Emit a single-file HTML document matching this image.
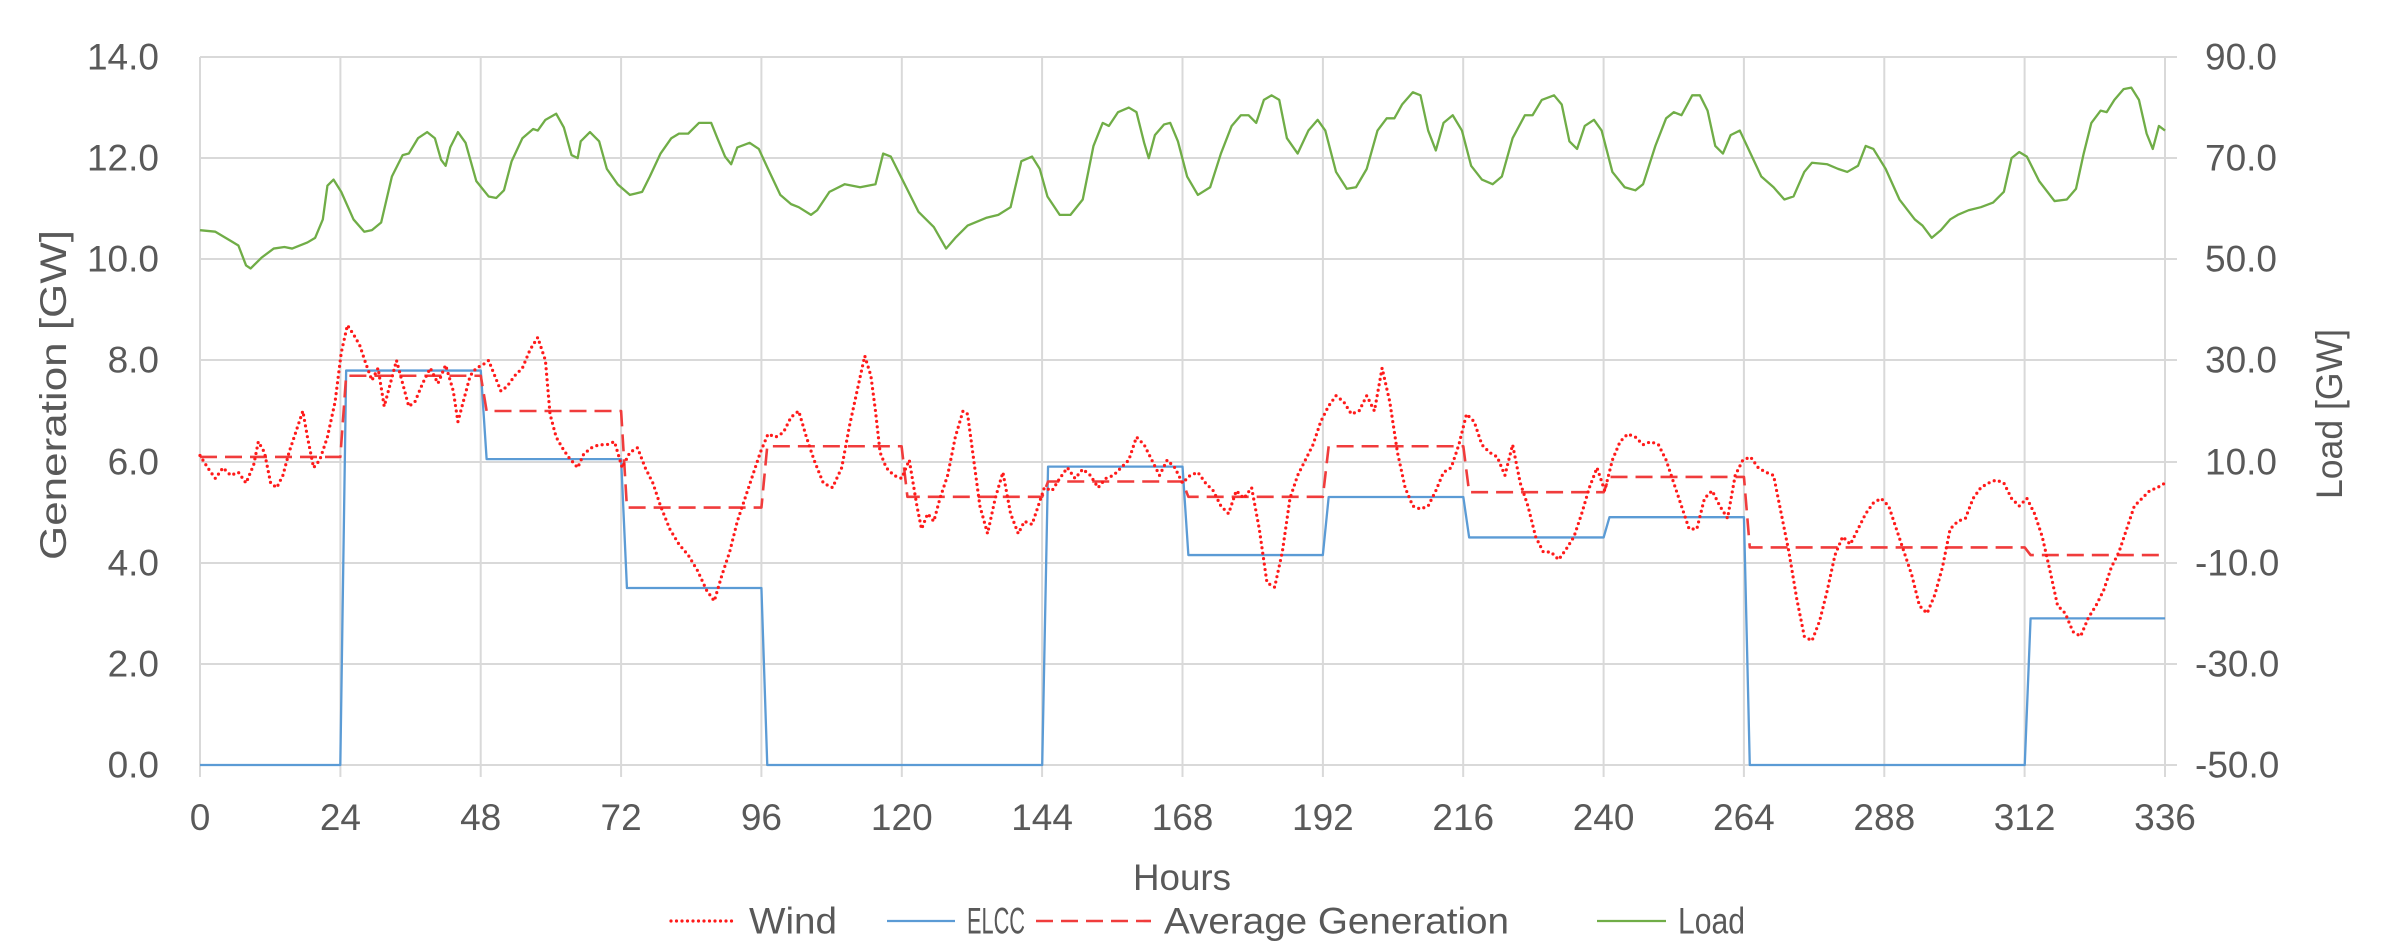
<!DOCTYPE html>
<html><head><meta charset="utf-8"><style>
html,body{margin:0;padding:0;background:#fff;}
svg{display:block;font-family:"Liberation Sans",sans-serif;}
text{fill:#595959;font-size:37px;}
</style></head><body>
<svg width="2407" height="950" viewBox="0 0 2407 950" xmlns="http://www.w3.org/2000/svg">
<g stroke="#D9D9D9" stroke-width="2">
<line x1="200" y1="57" x2="2177" y2="57"/><line x1="200" y1="158" x2="2177" y2="158"/><line x1="200" y1="259" x2="2177" y2="259"/><line x1="200" y1="360" x2="2177" y2="360"/><line x1="200" y1="462" x2="2177" y2="462"/><line x1="200" y1="563" x2="2177" y2="563"/><line x1="200" y1="664" x2="2177" y2="664"/><line x1="200" y1="765" x2="2177" y2="765"/>
<line x1="200" y1="57" x2="200" y2="777"/><line x1="340.4" y1="57" x2="340.4" y2="777"/><line x1="480.7" y1="57" x2="480.7" y2="777"/><line x1="621.1" y1="57" x2="621.1" y2="777"/><line x1="761.4" y1="57" x2="761.4" y2="777"/><line x1="901.8" y1="57" x2="901.8" y2="777"/><line x1="1042.1" y1="57" x2="1042.1" y2="777"/><line x1="1182.5" y1="57" x2="1182.5" y2="777"/><line x1="1322.9" y1="57" x2="1322.9" y2="777"/><line x1="1463.2" y1="57" x2="1463.2" y2="777"/><line x1="1603.6" y1="57" x2="1603.6" y2="777"/><line x1="1743.9" y1="57" x2="1743.9" y2="777"/><line x1="1884.3" y1="57" x2="1884.3" y2="777"/><line x1="2024.6" y1="57" x2="2024.6" y2="777"/><line x1="2165" y1="57" x2="2165" y2="777"/>
</g>
<g text-anchor="end" dominant-baseline="central">
<text x="159" y="57">14.0</text><text x="159" y="158">12.0</text><text x="159" y="259">10.0</text><text x="159" y="360">8.0</text><text x="159" y="462">6.0</text><text x="159" y="563">4.0</text><text x="159" y="664">2.0</text><text x="159" y="765">0.0</text>
</g>
<g text-anchor="start" dominant-baseline="central">
<text x="2205" y="57">90.0</text><text x="2205" y="158">70.0</text><text x="2205" y="259">50.0</text><text x="2205" y="360">30.0</text><text x="2205" y="462">10.0</text><text x="2195" y="563">-10.0</text><text x="2195" y="664">-30.0</text><text x="2195" y="765">-50.0</text>
</g>
<g text-anchor="middle">
<text x="200" y="830">0</text><text x="340.4" y="830">24</text><text x="480.7" y="830">48</text><text x="621.1" y="830">72</text><text x="761.4" y="830">96</text><text x="901.8" y="830">120</text><text x="1042.1" y="830">144</text><text x="1182.5" y="830">168</text><text x="1322.9" y="830">192</text><text x="1463.2" y="830">216</text><text x="1603.6" y="830">240</text><text x="1743.9" y="830">264</text><text x="1884.3" y="830">288</text><text x="2024.6" y="830">312</text><text x="2165" y="830">336</text>
</g>
<text x="1133" y="890" textLength="98" lengthAdjust="spacingAndGlyphs">Hours</text>
<text transform="translate(66,560) rotate(-90)" textLength="330" lengthAdjust="spacingAndGlyphs">Generation [GW]</text>
<text transform="translate(2342,499) rotate(-90)" textLength="170" lengthAdjust="spacingAndGlyphs">Load [GW]</text>

<g transform="translate(200,57) scale(1.5352,1.5325) translate(-130,-37)" fill="none" stroke-linejoin="round">
<polyline vector-effect="non-scaling-stroke" stroke="#70AD47" stroke-width="2.3" points="130,150 140,151 150,157 155,160 160,173 163,175 170,168 178,162 185,161 190,162 200,158 205,155 210,143 213,121 217,117 222,125 230,143 237,151 242,150 248,145 255,115 262,101 266,100 272,90 278,86 283,90 287,104 290,108 293,96 298,86 303,93 310,118 318,128 323,129 328,124 333,105 340,90 347,84 350,85 355,78 362,74 367,83 372,101 376,103 378,92 384,86 390,92 395,110 402,120 410,127 418,125 423,115 430,100 437,90 442,87 448,87 455,80 463,80 467,90 472,102 476,107 480,96 488,93 494,97 500,110 508,127 515,133 520,135 528,140 532,137 540,125 550,120 560,122 570,120 575,100 580,102 588,118 598,138 608,148 616,162 622,155 630,147 642,142 650,140 658,135 665,105 672,102 677,110 682,128 690,140 697,140 705,130 712,95 718,80 722,82 728,73 735,70 740,73 745,93 748,103 752,88 758,81 762,80 767,92 773,115 780,127 788,122 795,100 802,82 808,75 813,75 818,80 823,65 828,62 833,65 838,90 845,100 852,85 858,78 863,85 870,112 877,123 883,122 890,110 897,85 903,77 908,77 913,68 920,60 925,62 930,85 935,98 940,80 946,75 952,85 958,108 965,117 972,120 978,115 985,90 993,75 998,75 1004,65 1012,62 1017,68 1022,92 1027,97 1032,82 1038,78 1043,85 1050,112 1058,122 1065,124 1070,120 1078,95 1085,77 1090,73 1095,75 1102,62 1107,62 1112,72 1117,95 1122,100 1127,88 1133,85 1140,100 1147,115 1155,122 1162,130 1168,128 1175,112 1180,106 1190,107 1197,110 1203,112 1210,108 1215,95 1220,97 1228,110 1237,130 1247,143 1252,147 1258,155 1264,150 1270,143 1275,140 1282,137 1290,135 1298,132 1305,125 1310,103 1315,99 1320,102 1328,118 1338,131 1346,130 1352,123 1357,100 1362,80 1368,72 1372,73 1377,65 1383,58 1388,57 1393,65 1398,87 1402,97 1406,82 1410,85"/>
<polyline vector-effect="non-scaling-stroke" stroke="#5B9BD5" stroke-width="2.3" points="130,499 221.4,499 225.2,241.6 312.9,241.6 316.7,299.4 404.3,299.4 408.1,383.5 495.7,383.5 499.5,499 678.6,499 682.4,304.3 770,304.3 773.8,362 861.4,362 865.2,324.1 952.9,324.1 956.7,350.5 1044.3,350.5 1048.1,337.3 1135.7,337.3 1139.5,499 1318.6,499 1322.4,403.3 1410,403.3"/>
<polyline vector-effect="non-scaling-stroke" stroke="#F03C3C" stroke-width="2.6" stroke-dasharray="17 8" points="130,298 221.4,298 225.2,245 312.9,245 316.7,268 404.3,268 408.1,331 495.7,331 499.5,291 587,291 590.8,324 678.6,324 682.4,314 770,314 773.8,324 861.4,324 865.2,291 952.9,291 956.7,321 1044.3,321 1048.1,311 1135.7,311 1139.5,357 1318.6,357 1322.4,362 1410,362"/>
<polyline vector-effect="non-scaling-stroke" stroke="#FF1A1A" stroke-width="3.2" stroke-linecap="round" stroke-dasharray="0 5.5" points="130,297 135,305 140,312 145,305 150,310 155,308 160,315 165,303 168,288 172,295 176,315 180,318 184,310 188,295 193,280 197,268 200,285 204,305 208,300 213,285 218,262 222,230 226,212 230,218 234,225 238,237 242,248 246,240 250,265 254,250 258,235 262,250 266,265 270,262 275,250 280,240 285,250 290,238 295,255 298,275 302,260 306,245 310,240 314,238 318,235 322,245 326,255 330,252 335,245 340,240 345,228 350,220 355,235 358,270 362,285 366,292 370,298 376,305 380,296 385,292 390,290 395,290 400,288 405,305 410,295 415,292 420,305 425,315 430,330 436,345 442,355 448,362 454,372 460,385 465,392 470,375 475,360 480,340 485,325 490,310 495,295 500,283 505,285 510,282 515,272 520,268 525,285 530,300 536,315 542,318 548,305 553,278 558,255 563,232 567,245 570,268 573,295 577,305 582,310 587,312 592,300 597,330 600,345 604,335 608,340 612,325 617,310 622,285 627,268 630,270 634,300 638,330 643,348 648,325 653,308 658,335 663,348 667,340 672,342 676,330 680,318 685,320 690,312 695,305 700,312 705,306 710,310 715,318 720,312 725,310 730,305 735,300 740,285 745,290 750,300 755,310 760,300 765,305 770,315 775,310 780,308 785,315 790,320 795,330 800,335 805,320 810,325 815,318 820,345 825,380 830,383 835,360 840,325 845,310 850,300 855,290 860,275 865,265 870,258 875,262 880,270 885,268 890,258 895,268 900,240 905,262 910,295 915,318 920,330 925,332 930,330 935,320 940,308 945,305 950,290 955,270 960,275 965,290 970,295 975,298 980,310 985,290 990,315 995,330 1000,350 1005,360 1010,360 1015,365 1020,358 1025,350 1030,335 1035,318 1040,305 1045,320 1050,300 1055,288 1060,283 1065,285 1070,290 1075,288 1080,290 1085,300 1090,315 1095,330 1100,345 1105,345 1110,325 1115,320 1120,330 1125,338 1130,310 1135,300 1140,298 1145,305 1150,308 1155,310 1160,335 1165,360 1170,390 1175,415 1180,418 1185,405 1190,385 1195,362 1200,350 1205,355 1210,345 1215,335 1220,328 1225,325 1230,330 1235,345 1240,360 1245,375 1250,395 1255,400 1260,388 1265,370 1270,345 1275,340 1280,338 1285,325 1290,318 1295,315 1300,313 1305,315 1310,325 1315,330 1320,325 1325,335 1330,350 1335,372 1340,395 1345,400 1350,412 1355,415 1360,403 1365,395 1370,385 1375,370 1380,360 1385,345 1390,330 1395,325 1400,320 1405,318 1410,315"/>
</g>

<g dominant-baseline="central">
<line x1="671" y1="921" x2="737" y2="921" stroke="#FF1A1A" stroke-width="3.2" stroke-linecap="round" stroke-dasharray="0 5.5"/>
<text x="749" y="921" textLength="88" lengthAdjust="spacingAndGlyphs">Wind</text>
<line x1="887" y1="921" x2="955" y2="921" stroke="#5B9BD5" stroke-width="2.3"/>
<text x="967" y="921" textLength="58" lengthAdjust="spacingAndGlyphs">ELCC</text>
<line x1="1036" y1="921" x2="1151" y2="921" stroke="#F03C3C" stroke-width="2.6" stroke-dasharray="17 8"/>
<text x="1164" y="921" textLength="345" lengthAdjust="spacingAndGlyphs">Average Generation</text>
<line x1="1597" y1="921" x2="1666" y2="921" stroke="#70AD47" stroke-width="2.3"/>
<text x="1678" y="921" textLength="67" lengthAdjust="spacingAndGlyphs">Load</text>
</g>
</svg>
</body></html>
